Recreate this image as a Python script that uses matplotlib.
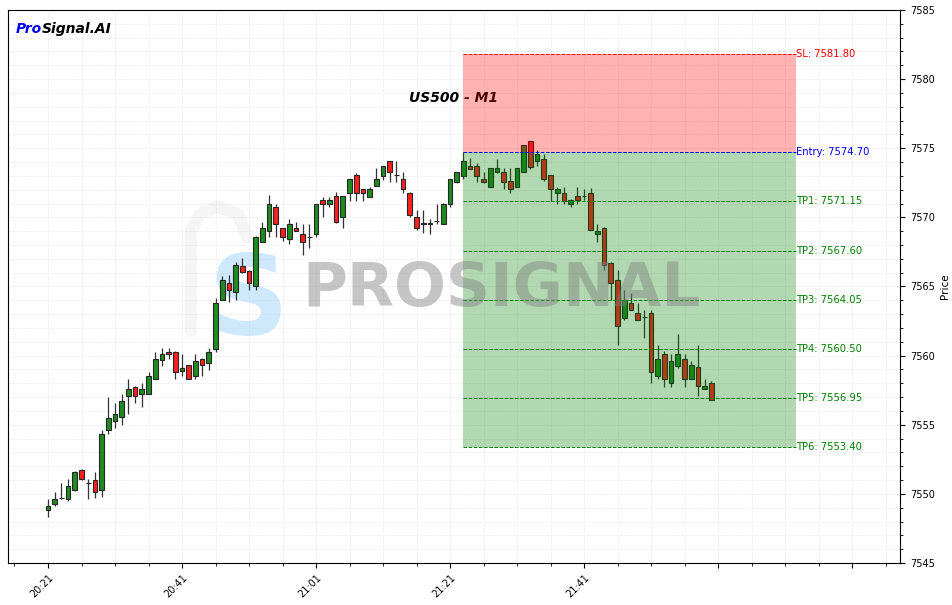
import numpy as np
import matplotlib
matplotlib.use("Agg")
from matplotlib import pyplot as plt
from matplotlib.ticker import MultipleLocator, FixedLocator

# one-minute candles from 20:21
opens = [7548.8, 7549.3, 7549.7, 7549.6, 7550.3, 7551.7, 7550.8, 7551.0, 7550.3, 7554.6,
         7555.25, 7555.55, 7557.05, 7557.75, 7557.25, 7557.25, 7558.3, 7559.65, 7560.25, 7560.25,
         7558.9, 7559.3, 7558.55, 7559.75, 7559.45, 7560.45, 7564.05, 7565.25, 7564.6, 7566.5,
         7566.15, 7565.0, 7568.25, 7569.05, 7570.75, 7569.2, 7568.4, 7569.2, 7568.8, 7568.55,
         7568.8, 7571.25, 7570.95, 7571.55, 7570.0, 7571.75, 7573.05, 7572.05, 7571.5, 7572.25,
         7573.0, 7574.05, 7573.05, 7572.75, 7571.75, 7570.0, 7569.55, 7569.55, 7569.75, 7569.55,
         7570.95, 7572.55, 7573.0, 7573.7, 7573.7, 7572.75, 7572.2, 7573.25, 7573.25, 7572.6,
         7572.2, 7573.25, 7575.5, 7574.05, 7574.2, 7573.05, 7571.75, 7571.75, 7571.0, 7571.55,
         7571.55, 7571.75, 7568.8, 7569.2, 7566.7, 7565.5, 7562.75, 7563.8, 7563.05, 7562.8,
         7563.05, 7558.55, 7560.1, 7558.05, 7559.25, 7559.75, 7558.3, 7559.15, 7557.6, 7558.05]
highs = [7549.6, 7550.1, 7550.8, 7551.1, 7551.65, 7551.8, 7551.1, 7551.6, 7554.6, 7557.0,
         7556.55, 7557.25, 7558.3, 7557.8, 7558.05, 7558.8, 7560.25, 7560.55, 7560.55, 7560.3,
         7560.1, 7559.35, 7560.1, 7559.8, 7560.55, 7564.2, 7565.75, 7565.8, 7566.75, 7567.05,
         7566.2, 7568.65, 7569.7, 7571.65, 7571.0, 7569.25, 7569.85, 7569.7, 7569.55, 7569.55,
         7571.0, 7571.5, 7571.5, 7571.8, 7571.55, 7572.75, 7573.2, 7572.05, 7572.2, 7573.55,
         7573.75, 7574.1, 7574.05, 7573.25, 7571.8, 7570.5, 7570.5, 7569.9, 7571.0, 7571.05,
         7572.75, 7573.3, 7574.75, 7574.3, 7573.95, 7573.25, 7573.6, 7574.2, 7573.55, 7573.55,
         7573.6, 7575.25, 7575.55, 7574.85, 7574.6, 7573.05, 7572.2, 7572.2, 7571.3, 7572.2,
         7572.05, 7572.15, 7569.55, 7569.3, 7566.8, 7566.2, 7564.75, 7564.55, 7563.8, 7563.3,
         7563.3, 7560.75, 7560.3, 7560.1, 7561.55, 7560.1, 7559.6, 7560.75, 7558.3, 7558.2]
lows = [7548.3, 7549.1, 7549.6, 7549.5, 7550.2, 7551.0, 7549.6, 7549.7, 7549.75, 7554.3,
        7554.75, 7555.0, 7555.8, 7556.55, 7556.25, 7557.2, 7558.3, 7559.25, 7559.75, 7558.3,
        7558.55, 7558.3, 7558.3, 7558.55, 7558.95, 7560.25, 7564.0, 7563.85, 7564.05, 7566.0,
        7564.75, 7564.75, 7568.2, 7568.6, 7568.6, 7568.3, 7568.05, 7569.0, 7567.3, 7567.75,
        7568.55, 7570.0, 7570.75, 7569.6, 7569.2, 7571.2, 7571.2, 7571.2, 7571.5, 7572.25,
        7572.7, 7572.55, 7572.55, 7571.75, 7570.0, 7569.1, 7568.9, 7568.8, 7569.5, 7569.5,
        7570.75, 7572.5, 7572.75, 7573.5, 7572.55, 7572.5, 7572.2, 7573.2, 7572.05, 7571.75,
        7572.2, 7573.25, 7573.5, 7573.75, 7572.6, 7571.2, 7571.0, 7571.0, 7570.75, 7571.0,
        7571.25, 7569.1, 7568.25, 7566.2, 7564.05, 7560.8, 7562.6, 7563.3, 7562.6, 7561.25,
        7558.05, 7558.3, 7557.75, 7557.75, 7559.1, 7557.75, 7558.3, 7557.05, 7557.6, 7556.8]
closes = [7549.1, 7549.6, 7549.7, 7550.6, 7551.6, 7551.05, 7550.8, 7550.1, 7554.3, 7555.5,
          7555.75, 7556.75, 7557.6, 7557.05, 7557.6, 7558.55, 7559.75, 7560.1, 7560.1, 7558.8,
          7559.1, 7558.3, 7559.6, 7559.3, 7560.25, 7563.8, 7565.5, 7564.75, 7566.55, 7566.05,
          7565.25, 7568.55, 7569.2, 7571.0, 7569.55, 7568.55, 7569.55, 7569.05, 7568.25, 7568.55,
          7571.0, 7571.0, 7571.25, 7569.7, 7571.55, 7572.75, 7571.75, 7571.75, 7572.05, 7572.75,
          7573.7, 7573.25, 7573.05, 7572.05, 7570.2, 7569.2, 7569.6, 7569.6, 7569.75, 7571.0,
          7572.75, 7573.25, 7574.1, 7573.5, 7573.0, 7572.55, 7573.55, 7573.55, 7572.55, 7572.05,
          7573.55, 7575.25, 7573.65, 7574.6, 7572.75, 7572.05, 7572.05, 7571.2, 7571.25, 7571.25,
          7571.55, 7569.1, 7569.05, 7566.55, 7565.25, 7562.15, 7564.05, 7563.3, 7562.6, 7562.8,
          7558.8, 7559.75, 7558.3, 7559.6, 7560.1, 7558.3, 7559.3, 7557.8, 7557.8, 7556.8]

tick_labels = ['20:21', '20:41', '21:01', '21:21', '21:41', '', '']

symbol = 'US500 - M1'
entry = 7574.70
sl = 7581.80
tps = [7571.15, 7567.60, 7564.05, 7560.50, 7556.95, 7553.40]
signal_start = 62
signal_end = 111.7

fig = plt.figure(figsize=(9.53, 6.05), dpi=100)
ax = fig.add_axes([8/953, 42/605, 892/953, 553/605])

x = np.arange(len(opens))
o = np.array(opens); h = np.array(highs); l = np.array(lows); c = np.array(closes)
up = c >= o
cols = np.where(up, '#1f8c1f', '#ff1f1f')

ax.vlines(x, l, h, color='#333333', lw=0.9, zorder=2)
ax.bar(x, np.abs(c - o), bottom=np.minimum(o, c), width=0.7, color=cols,
       edgecolor='#262626', linewidth=0.8, zorder=3)

# signal zones
ax.fill_between([signal_start, signal_end], entry, sl, color='red', alpha=0.3, lw=0, zorder=4)
ax.fill_between([signal_start, signal_end], tps[-1], entry, color='green', alpha=0.3, lw=0, zorder=4)
ax.hlines(sl, signal_start, signal_end, colors='red', linestyles='--', lw=0.7, zorder=5)
ax.hlines(entry, signal_start, signal_end, colors='blue', linestyles='--', lw=0.7, zorder=5)
ax.text(signal_end, sl, f'SL: {sl:.2f}', color='red', fontsize=7.2, va='center', ha='left')
ax.text(signal_end, entry, f'Entry: {entry:.2f}', color='blue', fontsize=7.2, va='center', ha='left')
for k, tp in enumerate(tps):
    ax.hlines(tp, signal_start, signal_end, colors='green', linestyles='--', lw=0.7, zorder=5)
    ax.text(signal_end, tp, f'TP{k+1}: {tp:.2f}', color='green', fontsize=7.2, va='center', ha='left')

# watermark: faint logo outline, blue S and the name
ax.plot([0.205, 0.205, 0.215, 0.235, 0.258, 0.268], [0.42, 0.6, 0.63, 0.645, 0.63, 0.59],
        transform=ax.transAxes, color='#b0b0b0', alpha=0.12, lw=9,
        solid_capstyle='round', zorder=1)
ax.text(0.27, 0.47, 'S', transform=ax.transAxes, fontsize=80, fontweight='bold',
        color='#9fd3fb', alpha=0.5, ha='center', va='center', zorder=1)
ax.text(0.553, 0.495, 'PROSIGNAL', transform=ax.transAxes, fontsize=44, fontweight='bold',
        color='#808080', alpha=0.45, ha='center', va='center', zorder=6)

ax.set_xlim(-5.97, 127.16)
ax.set_ylim(7545, 7585)
ax.xaxis.set_major_locator(FixedLocator(range(0, 121, 20)))
ax.xaxis.set_minor_locator(MultipleLocator(5))
ax.set_xticklabels(tick_labels, rotation=45, fontsize=7, ha='right', rotation_mode='anchor')
ax.yaxis.tick_right()
ax.yaxis.set_label_position('right')
ax.yaxis.set_major_locator(MultipleLocator(5))
ax.yaxis.set_minor_locator(MultipleLocator(1))
ax.tick_params(axis='y', labelsize=7)
ax.set_ylabel('Price', fontsize=7.5)
ax.grid(True, which='both', linestyle='--', color='#ebebeb', lw=0.5)
ax.set_axisbelow(True)

ax.text(0.5, 0.84, symbol, transform=ax.transAxes, fontsize=10, fontweight='bold',
        fontstyle='italic', ha='center', va='center')
t1 = ax.text(0.009, 0.978, 'Pro', transform=ax.transAxes, fontsize=10, fontweight='bold',
             fontstyle='italic', color='blue', va='top')
ax.annotate('Signal.AI', xy=(1, 0), xycoords=t1, fontsize=10, fontweight='bold',
            fontstyle='italic', color='black', va='bottom')

fig.savefig('out.png', dpi=100)
